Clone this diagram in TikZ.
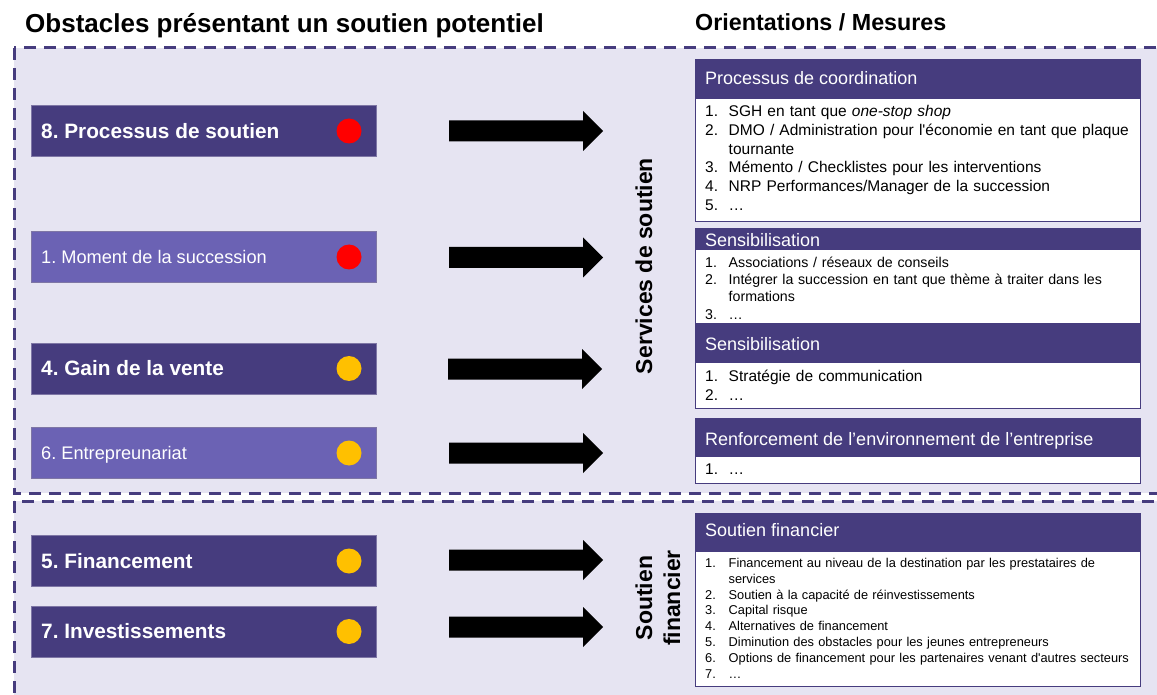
\documentclass[tikz,border=0pt]{standalone}
\usepackage{fontspec}
\setmainfont{Liberation Sans}
\definecolor{dk}{HTML}{463C7E}
\definecolor{lt}{HTML}{6B62B4}
\definecolor{bg}{HTML}{E6E4F2}
\definecolor{yl}{HTML}{FFC000}
\newlength\litemw
\setlength\litemw{23.5pt}
\newcommand\litem[2]{\hangindent=\litemw\hangafter=1\noindent\makebox[\litemw][l]{#1}#2}
\newcommand\nitem[2]{\par\litem{#1}{#2}}
\frenchspacing
\hyphenpenalty=10000
\exhyphenpenalty=10000
\begin{document}
\begin{tikzpicture}[x=1pt,y=-1pt,
 regionbox/.style={fill=bg, draw=dk, line width=3pt, dash pattern=on 12pt off 8pt},
 obox/.style={draw=dk!70!white, line width=0.6pt, minimum width=345pt, minimum height=51pt, inner sep=0, anchor=west},
 dkbox/.style={obox, fill=dk},
 ltbox/.style={obox, fill=lt},
 otxtb/.style={anchor=base west, inner sep=0, text=white, font=\fontsize{20.8}{24}\selectfont\bfseries},
 otxt/.style={anchor=base west, inner sep=0, text=white, font=\fontsize{18.2}{22}\selectfont},
 sdot/.style={circle, inner sep=0, minimum size=25pt},
 hdr/.style={fill=dk, draw=dk, line width=1pt, minimum width=445pt, anchor=north west, inner sep=0},
 mbody/.style={fill=white, draw=dk, line width=1.2pt, minimum width=445pt, anchor=north west, inner sep=0},
 htxt/.style={anchor=base west, inner sep=0, text=white, font=\fontsize{18}{22}\selectfont},
 ltext/.style={anchor=north west, inner sep=0, text width=428pt, align=left},
 vlab/.style={rotate=90, font=\fontsize{23}{28}\selectfont\bfseries, inner sep=0, align=center},
 barrow/.pic={\fill[black] (0,-10.5) -- (134,-10.5) -- (134,-20) -- (154,0) -- (134,20) -- (134,10.5) -- (0,10.5) -- cycle;}
]
\useasboundingbox (0,0) rectangle (1157,695);
\fill[white] (0,0) rectangle (1157,695);

% titles
\node[anchor=base west, inner sep=0, font=\fontsize{26}{30}\selectfont\bfseries] (title1) at (25,33) {Obstacles présentant un soutien potentiel};
\node[anchor=base west, inner sep=0, font=\fontsize{23.3}{28}\selectfont\bfseries] (title2) at (695,31) {Orientations / Mesures};

% regions
\path[regionbox] (14,48) rectangle (1180,493);
\path[regionbox] (14,501) rectangle (1180,715);

% obstacle boxes
\node[dkbox] (o8) at (31,131) {};
\node[otxtb] (t8) at (41,138.3) {8. Processus de soutien};
\node[sdot, fill=red] (d8) at (349,131) {};

\node[ltbox] (o1) at (31,257) {};
\node[otxt] (t1) at (41,263.4) {1. Moment de la succession};
\node[sdot, fill=red] (d1) at (349,257) {};

\node[dkbox] (o4) at (31,368.5) {};
\node[otxtb] (t4) at (41,375.8) {4. Gain de la vente};
\node[sdot, fill=yl] (d4) at (349,368.5) {};

\node[ltbox] (o6) at (31,453) {};
\node[otxt] (t6) at (41,459.4) {6. Entrepreunariat};
\node[sdot, fill=yl] (d6) at (349,453) {};

\node[dkbox] (o5) at (31,561) {};
\node[otxtb] (t5) at (41,568.3) {5. Financement};
\node[sdot, fill=yl] (d5) at (349,561) {};

\node[dkbox] (o7) at (31,631.5) {};
\node[otxtb] (t7) at (41,638.8) {7. Investissements};
\node[sdot, fill=yl] (d7) at (349,631.5) {};

% block arrows
\pic (a8) at (449,131) {barrow};
\pic (a1) at (449,257.5) {barrow};
\pic (a4) at (448,369) {barrow};
\pic (a6) at (449,453) {barrow};
\pic (a5) at (449,560) {barrow};
\pic (a7) at (449,627) {barrow};

% vertical labels
\node[vlab] (vs) at (644,266) {Services de soutien};
\node[vlab] (vf) at (658,598) {Soutien\\financier};

% measure boxes
\node[hdr, minimum height=39pt] (h1) at (695,59) {};
\node[mbody, minimum height=123pt] (b1) at (695,98) {};
\node[htxt] (ht1) at (705,85) {Processus de coordination};
\node[ltext, font=\fontsize{15.5}{18.7}\selectfont] (l1) at (705,103.7)
 {\litem{1.}{\rule{0pt}{13pt}SGH en tant que \textit{one-stop shop}}\nitem{2.}{DMO / Administration pour l\textquotesingle économie en tant que plaque tournante}\nitem{3.}{Mémento / Checklistes pour les interventions}\nitem{4.}{NRP Performances/Manager de la succession}\nitem{5.}{…}};

\node[hdr, minimum height=21pt] (h2) at (695,228) {};
\node[mbody, minimum height=74pt] (b2) at (695,249) {};
\node[htxt] (ht2) at (705,246.5) {Sensibilisation};
\node[ltext, font=\fontsize{14.2}{17.4}\selectfont] (l2) at (705,254)
 {\litem{1.}{\rule{0pt}{13pt}Associations / réseaux de conseils}\nitem{2.}{Intégrer la succession en tant que thème à traiter dans les formations}\nitem{3.}{…}};

\node[hdr, minimum height=39pt] (h3) at (695,323) {};
\node[mbody, minimum height=46pt] (b3) at (695,362) {};
\node[htxt] (ht3) at (705,350) {Sensibilisation};
\node[ltext, font=\fontsize{15.5}{18.3}\selectfont] (l3) at (705,368.7)
 {\litem{1.}{\rule{0pt}{13pt}Stratégie de communication}\nitem{2.}{…}};

\node[hdr, minimum height=38pt] (h4) at (695,418) {};
\node[mbody, minimum height=27pt] (b4) at (695,456) {};
\node[htxt] (ht4) at (705,445) {Renforcement de l’environnement de l’entreprise};
\node[ltext, font=\fontsize{15.5}{18.3}\selectfont] (l4) at (705,461)
 {\litem{1.}{\rule{0pt}{13pt}…}};

\node[hdr, minimum height=38pt] (h5) at (695,513) {};
\node[mbody, minimum height=135pt] (b5) at (695,551) {};
\node[htxt] (ht5) at (705,536) {Soutien financier};
\node[ltext, font=\fontsize{12.8}{15.9}\selectfont] (l5) at (705,554)
 {\litem{1.}{\rule{0pt}{13pt}Financement au niveau de la destination par les prestataires de services}\nitem{2.}{Soutien à la capacité de réinvestissements}\nitem{3.}{Capital risque}\nitem{4.}{Alternatives de financement}\nitem{5.}{Diminution des obstacles pour les jeunes entrepreneurs}\nitem{6.}{Options de financement pour les partenaires venant d\textquotesingle autres secteurs}\nitem{7.}{…}};
\end{tikzpicture}
\end{document}
